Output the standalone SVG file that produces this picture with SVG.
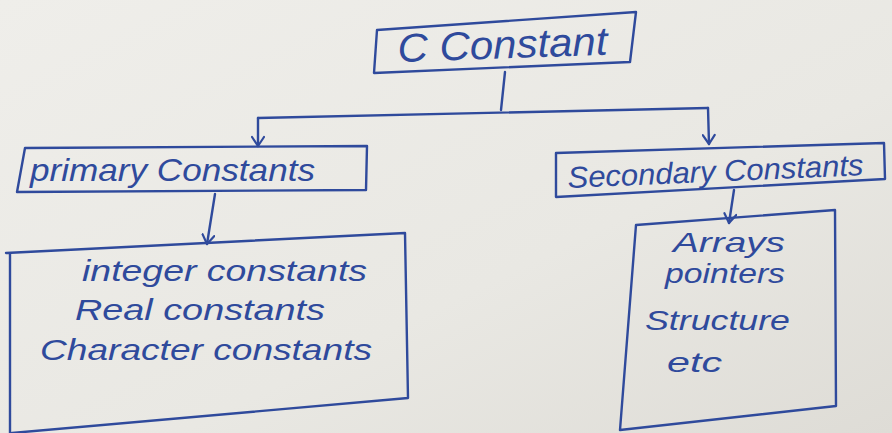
<svg xmlns="http://www.w3.org/2000/svg" width="892" height="433" viewBox="0 0 892 433">
<defs>
<linearGradient id="paper" x1="0" y1="0" x2="1" y2="1">
<stop offset="0" stop-color="#efeeea"/>
<stop offset="0.6" stop-color="#e9e8e3"/>
<stop offset="1" stop-color="#dedcd6"/>
</linearGradient>
<marker id="ah" viewBox="0 0 14 14" refX="12" refY="7" markerWidth="14" markerHeight="14" markerUnits="userSpaceOnUse" orient="auto">
<path d="M3,1 L12,7 L3,13" fill="none" stroke="#2f4a9c" stroke-width="2.2" stroke-linecap="round" stroke-linejoin="round"/>
</marker>
</defs>
<style>
.box{fill:none;stroke:#2f4a9c;stroke-width:2.4;stroke-linejoin:round;stroke-linecap:round}
.ln{fill:none;stroke:#2f4a9c;stroke-width:2.4;stroke-linecap:round}
.t{font-family:"Liberation Sans",Arial,sans-serif;fill:#2f4a9c;font-style:italic}
</style>
<rect width="892" height="433" fill="url(#paper)"/>
<g id="connectors">
<path class="ln" d="M505,72 L501,110"/>
<path class="ln" d="M258,118 L708,108"/>
<path class="ln" d="M258,118 L258,146" marker-end="url(#ah)"/>
<path class="ln" d="M708,108 L709,144" marker-end="url(#ah)"/>
<path class="ln" d="M215,194 L207,244" marker-end="url(#ah)"/>
<path class="ln" d="M734,190 L729,223" marker-end="url(#ah)"/>
</g>
<g id="c-constant">
<path class="box" d="M377,30 L636,12 L630,62 L374,73 Z"/>
<text class="t" x="398" y="62" font-size="40" textLength="210" lengthAdjust="spacingAndGlyphs" transform="rotate(-2 398 62)">C Constant</text>
</g>
<g id="primary">
<path class="box" d="M25,148 L367,146 L366,190 L17,192 Z"/>
<text class="t" x="30" y="181" font-size="32" textLength="285" lengthAdjust="spacingAndGlyphs">primary Constants</text>
</g>
<g id="secondary">
<path class="box" d="M556,153 L884,143 L885,179 L556,197 Z"/>
<text class="t" x="568" y="188" font-size="30" textLength="296" lengthAdjust="spacingAndGlyphs" transform="rotate(-2.5 568 188)">Secondary Constants</text>
</g>
<g id="primary-list">
<path class="box" d="M6,253 L405,233 L408,398 L12,433 M10,253 L10,433"/>
<text class="t" x="82" y="281" font-size="30" textLength="285" lengthAdjust="spacingAndGlyphs">integer constants</text>
<text class="t" x="75" y="320" font-size="30" textLength="250" lengthAdjust="spacingAndGlyphs">Real constants</text>
<text class="t" x="40" y="360" font-size="30" textLength="332" lengthAdjust="spacingAndGlyphs">Character constants</text>
</g>
<g id="secondary-list">
<path class="box" d="M636,225 L835,210 L836,406 L620,430 Z"/>
<text class="t" x="673" y="252" font-size="28" textLength="112" lengthAdjust="spacingAndGlyphs">Arrays</text>
<text class="t" x="665" y="283" font-size="28" textLength="120" lengthAdjust="spacingAndGlyphs">pointers</text>
<text class="t" x="645" y="330" font-size="28" textLength="145" lengthAdjust="spacingAndGlyphs">Structure</text>
<text class="t" x="667" y="372" font-size="28" textLength="55" lengthAdjust="spacingAndGlyphs">etc</text>
</g>
</svg>
